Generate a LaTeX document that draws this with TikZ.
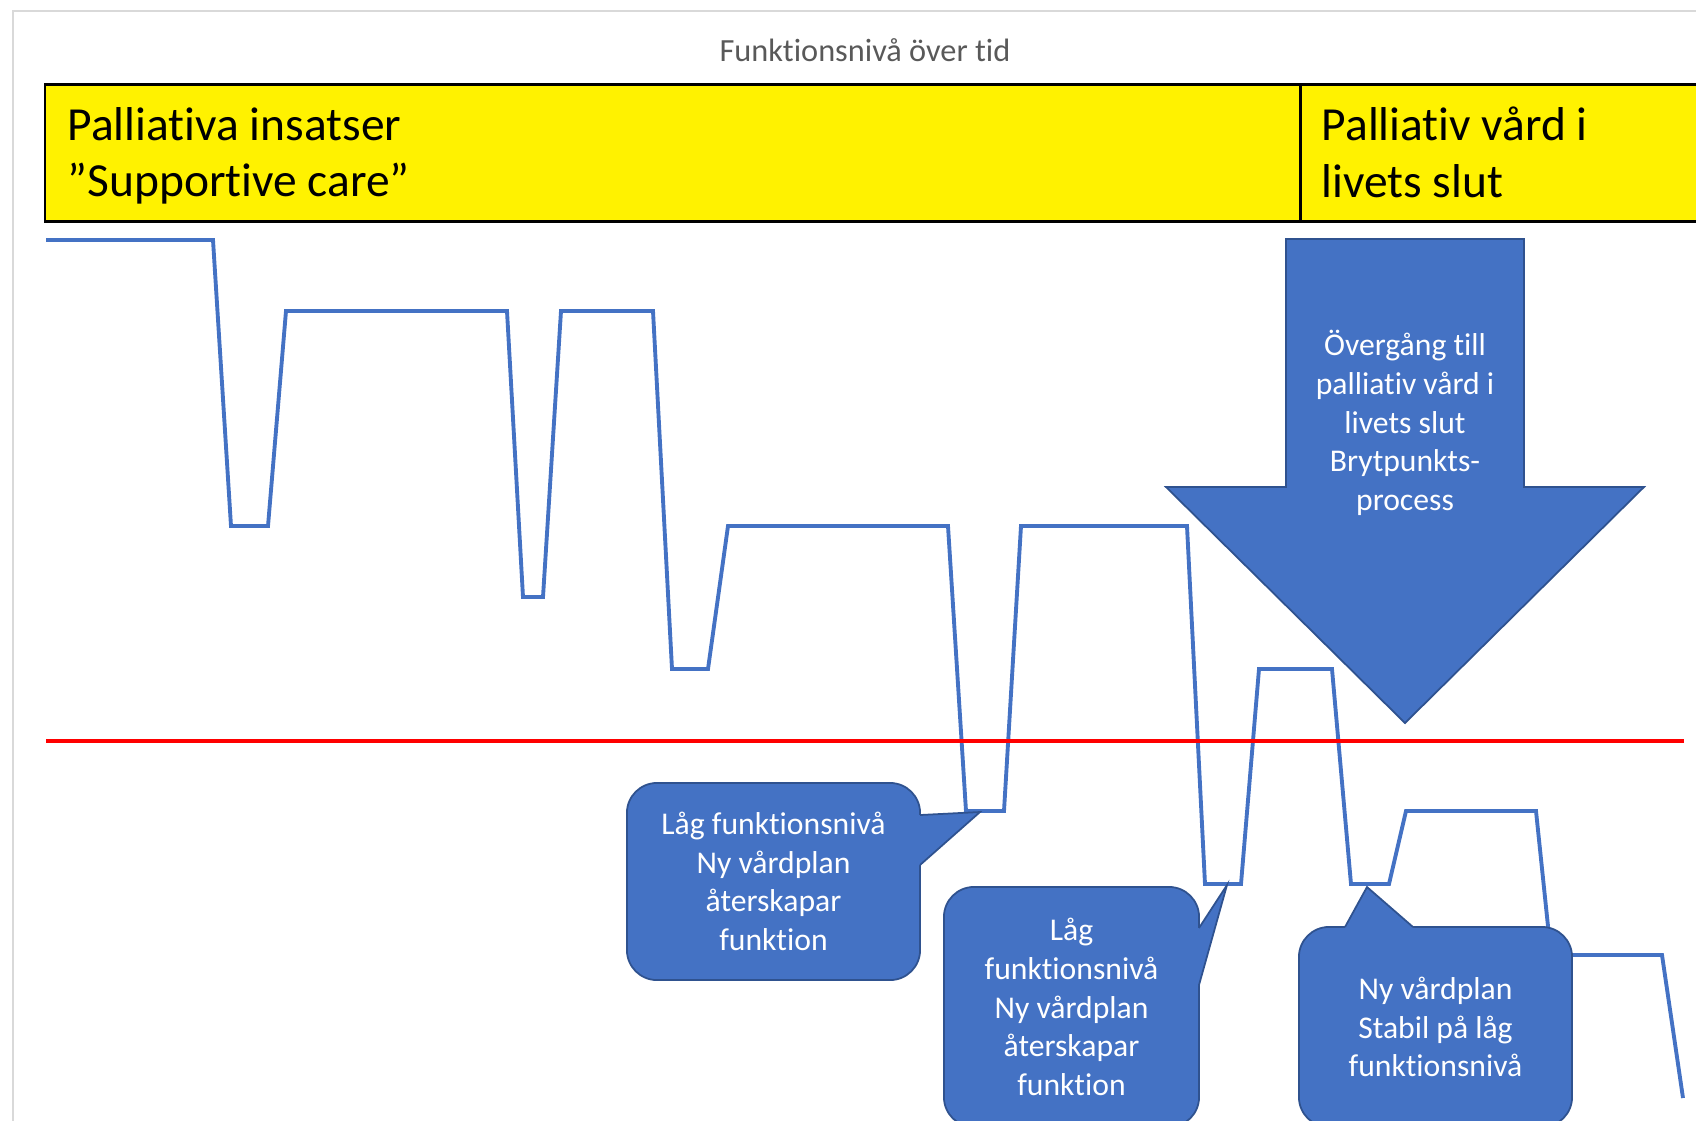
\documentclass[tikz,border=0pt]{standalone}
\usepackage{fontspec}
\setmainfont{Carlito}[Ligatures=NoCommon]
\usetikzlibrary{positioning, calc}
\definecolor{chartblue}{HTML}{4472C4}
\definecolor{chartedge}{HTML}{2F528F}
\definecolor{titlegray}{HTML}{595959}
\definecolor{framegray}{HTML}{D9D9D9}

\begin{document}
\begin{tikzpicture}[x=0.01cm, y=-0.01cm]
    % Stili
    \tikzset{
        phase_box/.style={
            draw=black, % Bordo nero
            fill=yellow,
            line width=0.85pt,
            anchor=north west,
            minimum height=1.37cm,
            outer sep=0pt
        },
        phase_text/.style={
            anchor=west,
            align=left,
            inner sep=0pt,
            font=\fontsize{13.5}{16}\selectfont
        },
        callout_box/.style={
            draw=chartedge,
            fill=chartblue,
            line width=0.5pt,
            rounded corners=0.3cm,
            text=white,
            align=center,
            font=\fontsize{9}{11}\selectfont,
            outer sep=0pt
        },
        callout_fill/.style={fill=chartblue},
        callout_edge/.style={draw=chartedge, line width=0.5pt},
        level_line/.style={draw=chartblue, line width=1.1pt}
    }

    \useasboundingbox (0,0) rectangle (1696,1120);

    % Cornice e titolo
    \draw[framegray, line width=0.6pt] (13,1140) -- (13,11) -- (1720,11);
    \node[text=titlegray, font=\fontsize{9.2}{11}\selectfont] (chart_title) at (865,50) {Funktionsnivå över tid};

    % Fasi
    \node[phase_box, minimum width=12.55cm] (phase_support) at (45,84) {};
    \node[phase_box, minimum width=4.4cm] (phase_end) at (1300,84) {};
    \node[phase_text] (phase_support_text) at (67,156) {Palliativa insatser\\”Supportive care”};
    \node[phase_text] (phase_end_text) at (1321,156) {Palliativ vård i\\livets slut\vphantom{p}};

    % Funktionsnivå
    \draw[level_line] (46,240) -- (213,240) -- (231,526) -- (268,526) -- (286,311) -- (507,311)
        -- (523,597) -- (543,597) -- (561,311) -- (653,311) -- (672,669) -- (708,669)
        -- (728,526) -- (948,526) -- (966,811) -- (1004,811) -- (1021,526) -- (1187,526)
        -- (1205,884) -- (1241,884) -- (1259,669) -- (1332,669) -- (1351,884) -- (1389,884)
        -- (1406,811) -- (1536,811) -- (1551,955) -- (1662,955) -- (1683,1098);

    % Gräns
    \draw[red, line width=1.1pt] (46,741) -- (1684,741);

    % Brytpunkt
    \filldraw[fill=chartblue, draw=chartedge, line width=0.5pt] (1286,239) -- (1524,239) -- (1524,487)
        -- (1644,487) -- (1405,723) -- (1166,487) -- (1286,487) -- cycle;
    \node[text=white, align=center, font=\fontsize{9}{11}\selectfont] (shift_text) at (1405,423)
        {Övergång till\\palliativ vård i\\livets slut\\Brytpunkts-\\process};

    % Pratbubblor
    \node[callout_box, minimum width=2.93cm, minimum height=1.97cm] (low_first) at (773.5,881.5)
        {Låg funktionsnivå\\Ny vårdplan\\återskapar\\funktion};
    \coordinate (low_first_tip) at (980,812);
    \coordinate (low_first_a) at (920,815);
    \coordinate (low_first_b) at (920,865);
    \fill[callout_fill] (low_first_a) -- (low_first_tip) -- (low_first_b) -- ++(-5,0) -- ($(low_first_a)+(-5,0)$) -- cycle;
    \draw[callout_edge] (low_first_a) -- (low_first_tip) -- (low_first_b);

    \node[callout_box, minimum width=2.55cm, minimum height=2.40cm] (low_second) at (1071.5,1007)
        {Låg\\funktionsnivå\\Ny vårdplan\\återskapar\\funktion};
    \coordinate (low_second_tip) at (1227,885);
    \coordinate (low_second_a) at (1199,928);
    \coordinate (low_second_b) at (1199,985);
    \fill[callout_fill] (low_second_a) -- (low_second_tip) -- (low_second_b) -- ++(-5,0) -- ($(low_second_a)+(-5,0)$) -- cycle;
    \draw[callout_edge] (low_second_a) -- (low_second_tip) -- (low_second_b);

    \node[callout_box, minimum width=2.73cm, minimum height=2.00cm] (stable_low) at (1435.5,1027)
        {Ny vårdplan\\Stabil på låg\\funktionsnivå};
    \coordinate (stable_low_tip) at (1367,887);
    \coordinate (stable_low_a) at (1345,927);
    \coordinate (stable_low_b) at (1413,927);
    \fill[callout_fill] (stable_low_a) -- (stable_low_tip) -- (stable_low_b) -- ++(0,5) -- ($(stable_low_a)+(0,5)$) -- cycle;
    \draw[callout_edge] (stable_low_a) -- (stable_low_tip) -- (stable_low_b);

\end{tikzpicture}
\end{document}
